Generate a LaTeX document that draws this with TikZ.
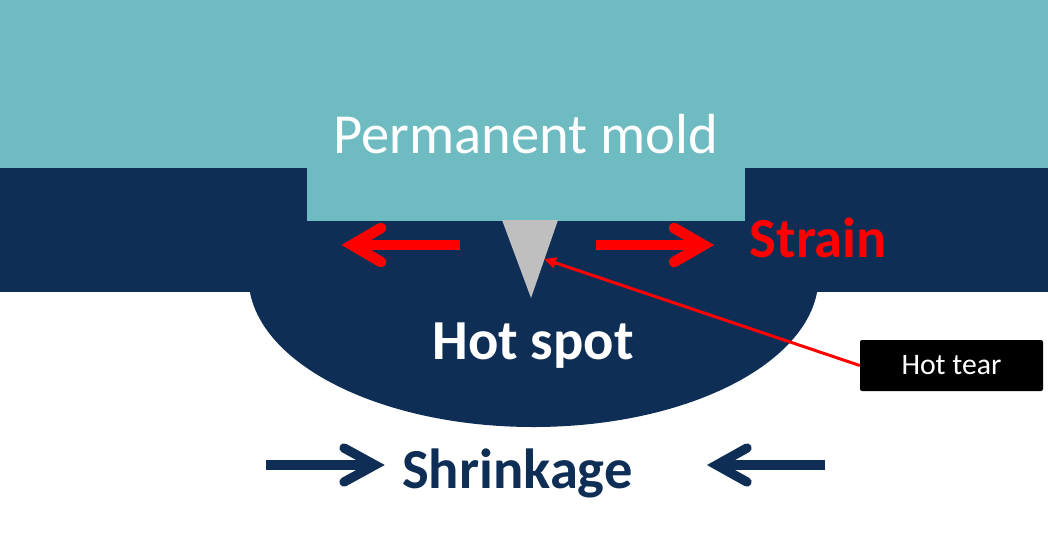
\documentclass[tikz,border=0pt]{standalone}
\usepackage{fontspec}
\setmainfont{Carlito}
\usetikzlibrary{arrows.meta}
\definecolor{teal1}{HTML}{6EBCC1}
\definecolor{navy1}{HTML}{0F2E56}
\definecolor{gray1}{HTML}{BFBFBF}
\definecolor{red1}{HTML}{FF0000}
\tikzset{
  bigtext/.style={inner sep=0pt, anchor=base, font=\fontsize{42.4}{50}\selectfont},
  strainline/.style={draw=red1, line width=8pt},
  shrinkline/.style={draw=navy1, line width=7pt},
  tearbox/.style={fill=black, rounded corners=1.5pt, text=white, inner sep=0pt,
    minimum width=137.25pt, minimum height=38.25pt, font=\fontsize{22.3}{26}\selectfont},
}
\begin{document}
\begin{tikzpicture}[x=0.75pt,y=-0.75pt]
\useasboundingbox (0,0) rectangle (1048,536);
\fill[white] (0,0) rectangle (1048,536);
% navy ellipse (hot spot) and band
\begin{scope}
  \clip (0,292) rectangle (1048,536);
  \fill[navy1] (533.5,277) ellipse [x radius=285, y radius=150];
\end{scope}
\fill[navy1] (0,168) rectangle (1048,292);
% mold
\fill[teal1] (0,0) rectangle (1048,168);
\fill[teal1] (307,167) rectangle (745,220.5);
% hot tear crack
\fill[gray1] (502,220) -- (558,220) -- (531,298) -- cycle;
% texts
\node[bigtext, text=white] (mold) at (525.8,153.3) {Permanent mold};
\node[bigtext, text=red1, font=\fontsize{42.4}{50}\selectfont\bfseries] (strain) at (818.3,257.7) {Strain};
\node[bigtext, text=white, font=\fontsize{42.4}{50}\selectfont\bfseries] (hotspot) at (533,359.3) {Hot spot};
\node[bigtext, text=navy1, font=\fontsize{42.4}{50}\selectfont\bfseries] (shrink) at (517.3,488.3) {Shrinkage};
% strain arrows
\draw[strainline, line cap=butt] (460,245) -- (355,245);
\draw[strainline, line cap=round, line join=miter] (381,228) -- (352,245) -- (381,262);
\draw[strainline, line cap=butt] (596,245) -- (700,245);
\draw[strainline, line cap=round, line join=miter] (674,228) -- (703.5,245) -- (674,262);
% shrinkage arrows
\draw[shrinkline, line cap=butt] (266,465) -- (372,465);
\draw[shrinkline, line cap=round, line join=miter] (344,448) -- (375,465) -- (344,482);
\draw[shrinkline, line cap=butt] (825,465) -- (719,465);
\draw[shrinkline, line cap=round, line join=miter] (747,448) -- (716.5,465) -- (747,482);
% hot tear label
\node[tearbox] (tear) at (951.5,365.5) {Hot tear};
\coordinate (tip) at (544,259);
\draw[red1, line width=2.25pt, -{Triangle[length=9pt,width=8pt]}] (tear.west) -- (tip);
\end{tikzpicture}
\end{document}
